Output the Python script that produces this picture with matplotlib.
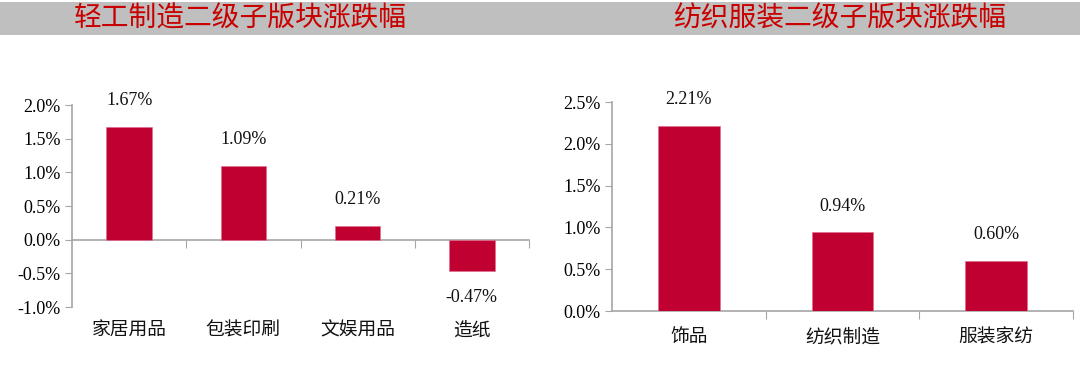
import matplotlib.pyplot as plt
import matplotlib.transforms as mtransforms
from matplotlib.patches import Rectangle
from matplotlib.ticker import FuncFormatter, FixedLocator

# data
light_cats = ['家居用品', '包装印刷', '文娱用品', '造纸']
light_vals = [1.67, 1.09, 0.21, -0.47]
textile_cats = ['饰品', '纺织制造', '服装家纺']
textile_vals = [2.21, 0.94, 0.60]

titles = ['轻工制造二级子版块涨跌幅', '纺织服装二级子版块涨跌幅']

bar_color = '#C00030'
axis_color = '#A6A6A6'
cjk = ['Noto Sans CJK SC', 'DejaVu Sans']
serif = 'Liberation Serif'

fig = plt.figure(figsize=(10.8, 3.72), dpi=100)

# grey header band across the top
fig.patches.append(Rectangle((0, 1 - 35 / 372), 1, 33 / 372, transform=fig.transFigure,
                             facecolor='#BFBFBF', edgecolor='none', zorder=0))
fig.text(240 / 1080, 1 - 19 / 372, titles[0], color='#C80000', fontsize=20,
         family=cjk, ha='center', va='center')
fig.text(840 / 1080, 1 - 19 / 372, titles[1], color='#C80000', fontsize=20,
         family=cjk, ha='center', va='center')


def draw(ax, cats, vals, ylo, yhi, label_gap):
    x = list(range(len(cats)))
    ax.bar(x, vals, width=0.4, color=bar_color, edgecolor='#E07090', linewidth=0.5, zorder=3)
    ax.set_xlim(-0.5, len(cats) - 0.5)
    ax.set_ylim(ylo, yhi)
    ax.set_yticks([v / 10 for v in range(int(ylo * 10), int(yhi * 10) + 1, 5)])
    ax.yaxis.set_major_formatter(FuncFormatter(lambda v, p: f'{v:.1f}%'))
    for lab in ax.get_yticklabels():
        lab.set_family(serif)
    ax.tick_params(axis='y', direction='out', length=5, color=axis_color,
                   labelsize=13, pad=3)
    for s in ['top', 'right']:
        ax.spines[s].set_visible(False)
    ax.spines['left'].set_color(axis_color)
    ax.spines['left'].set_linewidth(1.2)
    ax.spines['bottom'].set_position(('data', 0))
    ax.spines['bottom'].set_color(axis_color)
    ax.spines['bottom'].set_linewidth(1.2)
    ax.xaxis.set_major_locator(FixedLocator([i + 0.5 for i in x]))
    ax.xaxis.set_major_formatter(FuncFormatter(lambda v, p: ''))
    ax.tick_params(axis='x', direction='out', length=6, color=axis_color)
    trans = mtransforms.blended_transform_factory(ax.transData, ax.transAxes)
    for i, c in enumerate(cats):
        ax.text(i, -label_gap, c, transform=trans, ha='center', va='center',
                family=cjk, fontsize=13.5, color='#111111')
    for i, v in enumerate(vals):
        off = 19 if v >= 0 else -19
        ax.annotate(f'{v:.2f}%', (i, v), xytext=(0, off), textcoords='offset points',
                    ha='center', va='center', family=serif, fontsize=13,
                    color='#111111', annotation_clip=False)
    return ax


ax1 = fig.add_axes([72 / 1080, 1 - 307 / 372, (529 - 72) / 1080, (307 - 105) / 372])
draw(ax1, light_cats, light_vals, -1.0, 2.0, 0.115)

ax2 = fig.add_axes([612 / 1080, 1 - 311 / 372, (1073 - 612) / 1080, (311 - 102) / 372])
draw(ax2, textile_cats, textile_vals, 0.0, 2.5, 0.125)

fig.savefig('out.png', dpi=100)
